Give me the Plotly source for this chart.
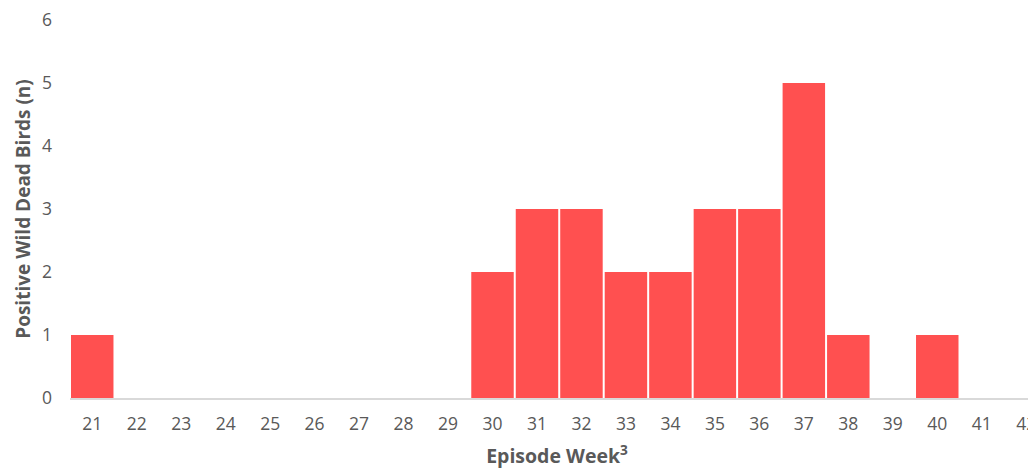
import plotly.graph_objects as go

weeks = [str(w) for w in range(21, 43)]
birds = [1, 0, 0, 0, 0, 0, 0, 0, 0, 2, 3, 3, 2, 2, 3, 3, 5, 1, 0, 1, 0, 0]
y_ticks = [0, 1, 2, 3, 4, 5, 6]

font_family = "'Open Sans', sans-serif"

fig = go.Figure(go.Bar(
    x=weeks, y=birds,
    marker=dict(color="#FF5050", line=dict(width=0)),
))

fig.update_layout(
    width=1036, height=474,
    margin=dict(l=62, r=0, t=12, b=84),
    plot_bgcolor="white", paper_bgcolor="white",
    bargap=0.045,
    showlegend=False,
    font=dict(family=font_family, color="#595959", size=17),
)
fig.update_xaxes(
    type="category", range=[-0.5, 21.4],
    showline=True, linecolor="#D9D9D9", linewidth=1.5,
    showgrid=False, ticks="", ticklabelstandoff=9,
    tickfont=dict(size=17.5, color="#595959"),
    title=dict(text="<b>Episode Week<sup>3</sup></b>", font=dict(size=19.5, color="#595959"), standoff=16),
)
fig.update_yaxes(
    range=[0, 6], tickvals=y_ticks,
    showgrid=False, zeroline=False, showline=False, ticks="",
    ticklabelstandoff=17, ticklabeloverflow="allow",
    tickfont=dict(size=17.5, color="#595959"),
    title=dict(text="<b>Positive Wild Dead Birds (n)</b>", font=dict(size=19, color="#595959"), standoff=6),
)

fig.write_html("out.html")
